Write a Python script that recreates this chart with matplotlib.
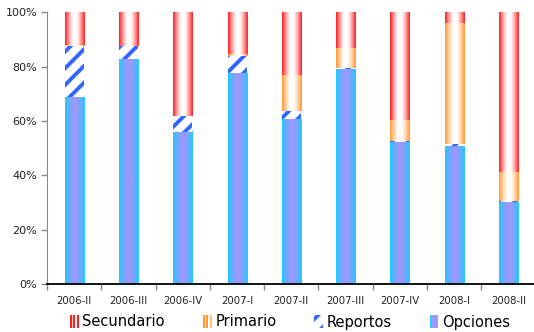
import numpy as np
import matplotlib
matplotlib.use("Agg")
import matplotlib.pyplot as plt
from matplotlib.patches import Rectangle
from matplotlib.legend_handler import HandlerBase
from matplotlib.colors import to_rgb

periods = ["2006-II", "2006-III", "2006-IV", "2007-I", "2007-II",
           "2007-III", "2007-IV", "2008-I", "2008-II"]
opciones = [68.7, 82.7, 56.1, 77.6, 60.6, 79.0, 52.3, 50.7, 30.0]
reportos = [18.8, 4.8, 5.6, 6.5, 3.0, 0.6, 0.5, 0.8, 0.6]
primario = [0.3, 0.2, 0.0, 0.5, 13.2, 7.1, 7.7, 44.6, 10.7]
secundario = [12.2, 12.3, 38.3, 15.4, 23.2, 13.3, 39.5, 3.9, 58.7]
yticks = [0, 20, 40, 60, 80, 100]

RED = "#ff1f1f"
ORANGE = "#ff9933"
BLUE = "#3366ff"
CYAN = "#1fcbff"
LAVENDER = "#9999ff"

plt.rcParams["font.family"] = ["DejaVu Sans"]
plt.rcParams["hatch.linewidth"] = 2.8

fig = plt.figure(figsize=(5.34, 3.32), dpi=100)
ax = fig.add_axes([47.0 / 534, 48.0 / 332, 487.0 / 534, 271.7 / 332])


def gradient_strip(edge, center, n=64, power=1.3, flat=0.15):
    x = np.linspace(0, 1, n)
    t = np.clip(np.abs(x - 0.5) * 2.0, 0, 1)
    t = np.clip((t - flat) / (1 - flat), 0, 1) ** power
    e = np.array(to_rgb(edge))
    c = np.array(to_rgb(center))
    cols = c[None, :] + (e - c)[None, :] * t[:, None]
    return cols[None, :, :]


x = np.arange(len(periods))
width = 0.35
bottom = np.zeros(len(periods))

layers = [
    ("Opciones", opciones, gradient_strip(CYAN, LAVENDER, power=1.3, flat=0.15)),
    ("Reportos", reportos, None),
    ("Primario", primario, gradient_strip(ORANGE, "#ffffff")),
    ("Secundario", secundario, gradient_strip(RED, "#ffffff")),
]

for name, vals, grad in layers:
    vals = np.asarray(vals, dtype=float)
    if grad is None:
        bars = ax.bar(x, vals, width, bottom=bottom, facecolor="white",
                      edgecolor=BLUE, hatch="//", linewidth=0, zorder=2)
    else:
        bars = ax.bar(x, vals, width, bottom=bottom, facecolor="none",
                      linewidth=0, zorder=2)
        for p in bars.patches:
            if p.get_height() <= 0:
                continue
            x0, y0 = p.get_x(), p.get_y()
            ax.imshow(grad, extent=(x0, x0 + p.get_width(), y0, y0 + p.get_height()),
                      aspect="auto", interpolation="bilinear", zorder=2)
    bottom = bottom + vals

ax.set_xlim(-0.5, 8.47)
ax.set_ylim(0, 100)
ax.set_yticks(yticks)
ax.set_yticklabels([f"{v}%" for v in yticks], fontsize=8, color="#222222")
ax.set_xticks(x)
ax.set_xticklabels(periods, fontsize=7.3, color="#222222")
ax.set_xticks(np.arange(-0.5, 8.5, 1.0), minor=True)
ax.tick_params(axis="x", which="major", length=0, pad=9)
ax.tick_params(axis="x", which="minor", length=4, color="#888888", width=1)
ax.tick_params(axis="y", length=4, color="#888888", width=1, pad=3)

for s in ("top", "right"):
    ax.spines[s].set_visible(False)
ax.spines["left"].set_color("#888888")
ax.spines["bottom"].set_color("black")
ax.spines["bottom"].set_linewidth(1.3)
ax.spines["bottom"].set_zorder(3)


class StripeHandler(HandlerBase):
    def __init__(self, colors):
        super().__init__()
        self.colors = colors

    def create_artists(self, legend, orig_handle, xdescent, ydescent,
                       width, height, fontsize, trans):
        n = len(self.colors)
        w = width / n
        arts = []
        for i, c in enumerate(self.colors):
            r = Rectangle((-xdescent + i * w, -ydescent), w, height,
                          facecolor=c, edgecolor="none", transform=trans)
            arts.append(r)
        return arts


class HatchHandler(HandlerBase):
    def create_artists(self, legend, orig_handle, xdescent, ydescent,
                       width, height, fontsize, trans):
        r = Rectangle((-xdescent, -ydescent), width, height, facecolor="white",
                      edgecolor=BLUE, hatch="//", linewidth=0, transform=trans)
        return [r]


h_sec = Rectangle((0, 0), 1, 1)
h_pri = Rectangle((0, 0), 1, 1)
h_rep = Rectangle((0, 0), 1, 1)
h_opc = Rectangle((0, 0), 1, 1)
handler_map = {
    h_sec: StripeHandler([RED, "#ffd0d0", RED, "#ffffff", RED]),
    h_pri: StripeHandler([ORANGE, "#ffe2c4", ORANGE, "#ffffff", "#ffc080"]),
    h_rep: HatchHandler(),
    h_opc: StripeHandler([CYAN, LAVENDER, LAVENDER, LAVENDER, LAVENDER]),
}
fig.legend([h_sec, h_pri, h_rep, h_opc],
           ["Secundario", "Primario", "Reportos", "Opciones"],
           handler_map=handler_map, loc="center", bbox_to_anchor=(290 / 534, 10 / 332),
           ncol=4, frameon=False, fontsize=10.5, handlelength=0.6, handleheight=0.9,
           handletextpad=0.25, columnspacing=2.6, borderaxespad=0)

fig.savefig("out.png", dpi=100)
